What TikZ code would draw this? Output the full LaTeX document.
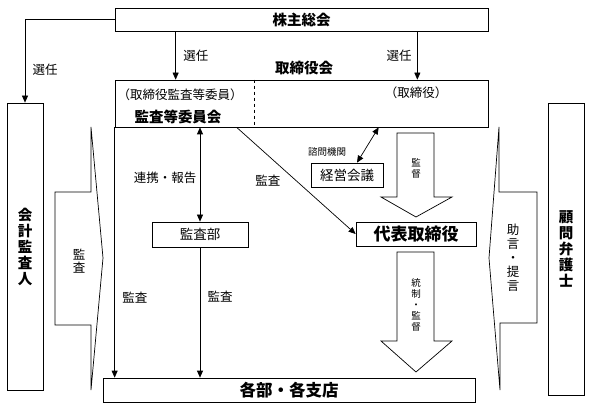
\documentclass[tikz,border=0pt]{standalone}
\usepackage{fontspec}
\setmainfont{Noto Sans CJK JP}
\usetikzlibrary{arrows.meta, positioning, calc}

\begin{document}
\begin{tikzpicture}[
    x=1pt, y=-1pt,
    >={Triangle[length=7pt,width=6pt]},
    line width=0.7pt,
    box/.style={
      draw,
      rectangle,
      inner sep=0pt,
      align=center
    },
    lbl/.style={font=\fontsize{12.5}{14}\selectfont},
    small/.style={font=\fontsize{9.5}{11}\selectfont},
    head/.style={font=\bfseries\fontsize{14.5}{16}\selectfont},
    vtext/.style={align=center, inner sep=0pt},
    bigarrow/.style={draw, fill=white}
]
\useasboundingbox (0,0) rectangle (590,409);

% organs
\node[box, head, minimum width=373pt, minimum height=23pt] (gms) at (301.5,19.5) {株主総会};
\node[box, minimum width=373pt, minimum height=47pt] (board) at (301.5,103.5) {};
\node[head] (boardtitle) at (304,68) {取締役会};
\node[lbl] (auditmem) at (180,95) {（取締役監査等委員）};
\node[head] (committee) at (178,117) {監査等委員会};
\node[lbl] (directors) at (416,93) {（取締役）};
\draw[dashed] ($(board.north west)+(140,0)$) -- ($(board.south west)+(140,0)$);

% side boxes
\node[box, font=\bfseries\fontsize{14.5}{16}\selectfont, minimum width=36pt, minimum height=287pt] (auditor) at (25,246.5) {会\\計\\監\\査\\人};
\node[box, font=\bfseries\fontsize{14.5}{16}\selectfont, minimum width=36pt, minimum height=292pt] (lawyer) at (566,249) {顧\\問\\弁\\護\\士};

% inner boxes
\node[box, font=\fontsize{13.5}{15}\selectfont, minimum width=96pt, minimum height=25pt] (auditdept) at (200,234.5) {監査部};
\node[box, font=\fontsize{13.5}{15}\selectfont, minimum width=72pt, minimum height=24pt] (exec) at (347,175) {経営会議};
\node[box, font=\bfseries\fontsize{17}{19}\selectfont, minimum width=120pt, minimum height=24pt] (ceo) at (416,234) {代表取締役};
\node[box, font=\bfseries\fontsize{16.5}{18}\selectfont, minimum width=372pt, minimum height=24pt] (branches) at (289,390) {各部・各支店};

% 選任
\draw[->] (gms.west) -| (auditor.north)
  node[pos=0.8, right=4pt, lbl] (sel1) {選任};
\draw[->] ($(gms.south west)+(61,0)$) -- ($(board.north west)+(61,0)$)
  node[midway, right=4pt, lbl] (sel2) {選任};
\draw[->] ($(gms.south east)+(-71,0)$) -- ($(board.north east)+(-71,0)$)
  node[midway, left=2pt, lbl] (sel3) {選任};

% 監査
\draw[->] (board.south west) -- (board.south west |- branches.north)
  node[pos=0.68, right=4pt, lbl] (aud1) {監査};
\draw[<->] (auditdept.north |- board.south) -- (auditdept.north)
  node[pos=0.54, left=0pt, lbl] (link) {連携・報告};
\draw[->] (auditdept.south) -- (auditdept.south |- branches.north)
  node[pos=0.38, right=4pt, lbl] (aud2) {監査};
\draw[->] ($(board.south west)+(122,0)$) -- (ceo.west)
  node[midway, left=12pt, lbl] (aud3) {監査};

% 諮問機関
\draw[<->] ($(exec.north)+(10,0)$) -- ($(board.south west)+(264,0)$);
\node[small] (advisory) at (327,152) {諮問機関};

% 監督 / 統制・監督
\draw[bigarrow] (397,133) -- (434,133) -- (434,197) -- (452,197) -- (416,217) -- (381,197) -- (397,197) -- cycle;
\node[vtext, small] (superv) at (416,168) {監\\督};
\draw[bigarrow] (397,252) -- (434,252) -- (434,341) -- (452,341) -- (416,372) -- (381,341) -- (397,341) -- cycle;
\node[vtext, small] (control) at (416,305) {統\\制\\・\\監\\督};

% 会計監査人 -> 監査
\draw (55,192) -- (91,192) -- (91,127) -- (103,258) -- (91,390) -- (91,325) -- (55,325) -- cycle;
\node[vtext, font=\fontsize{12.5}{13.5}\selectfont] (extaudit) at (79,261) {監\\査};

% 顧問弁護士 -> 助言・提言
\draw (537,192) -- (499,192) -- (499,127) -- (489,258) -- (500,390) -- (500,323) -- (537,323) -- cycle;
\node[vtext, font=\fontsize{12.5}{14}\selectfont] (advice) at (513,258) {助\\言\\・\\提\\言};

\end{tikzpicture}
\end{document}
